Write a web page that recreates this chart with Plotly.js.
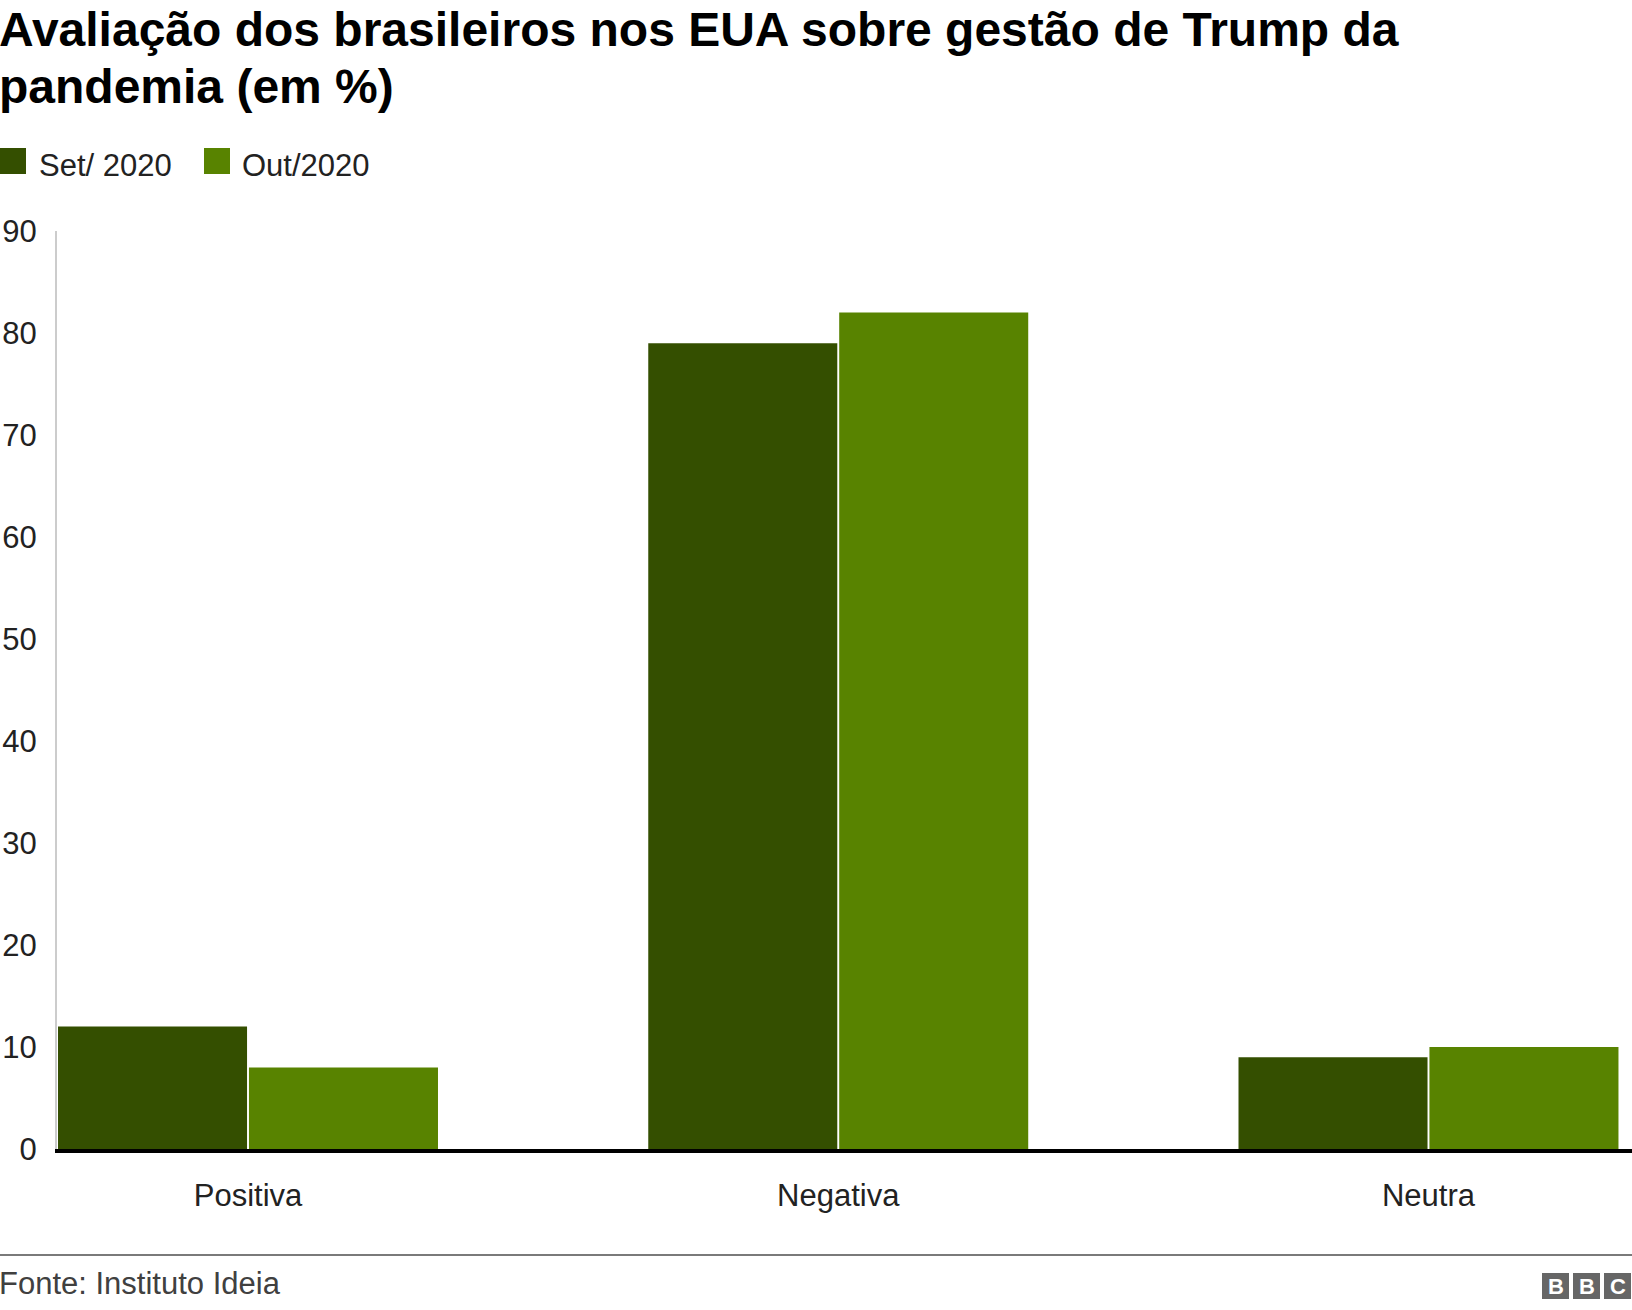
<!DOCTYPE html>
<html>
<head>
<meta charset="utf-8">
<script src="https://cdn.plot.ly/plotly-3.0.1.min.js"></script>
<style>html,body{margin:0;padding:0;background:#fff;}#chart{width:1632px;height:1310px;}</style>
</head>
<body>
<div id="chart"></div>
<script>
const categories = ["Positiva", "Negativa", "Neutra"];
const seriesNames = ["Set/ 2020", "Out/2020"];
const setValues = [12, 79, 9];
const outValues = [8, 82, 10];
const yTicks = [0, 10, 20, 30, 40, 50, 60, 70, 80, 90];
const titleLines = ["Avaliação dos brasileiros nos EUA sobre gestão de Trump da", "pandemia (em %)"];
const sourceText = "Fonte: Instituto Ideia";

const W = 1632, H = 1310;
const L = 57, R = 0, T = 231, B = 161;
const PW = W - L - R, PH = H - T - B;
const px = x => (x - L) / PW;
const py = y => (H - B - y) / PH;

const colors = ["#344f00", "#588300"];
const FONT = "Liberation Sans, Arial, Helvetica, sans-serif";

const traces = [
  {type: "bar", name: seriesNames[0], x: categories, y: setValues, marker: {color: colors[0]}, hoverinfo: "x+y+name"},
  {type: "bar", name: seriesNames[1], x: categories, y: outValues, marker: {color: colors[1]}, hoverinfo: "x+y+name"}
];

const shapes = [
  {type: "rect", xref: "paper", yref: "paper", x0: px(0), x1: px(26), y0: py(174), y1: py(148), fillcolor: colors[0], line: {width: 0}},
  {type: "rect", xref: "paper", yref: "paper", x0: px(204), x1: px(230), y0: py(174), y1: py(148), fillcolor: colors[1], line: {width: 0}},
  {type: "line", xref: "paper", yref: "paper", x0: px(0), x1: px(1632), y0: py(1255), y1: py(1255), line: {color: "#7a7a7a", width: 2}},
  {type: "rect", xref: "paper", yref: "paper", x0: px(1542), x1: px(1569), y0: py(1299), y1: py(1273), fillcolor: "#666666", line: {width: 0}},
  {type: "rect", xref: "paper", yref: "paper", x0: px(1573), x1: px(1600), y0: py(1299), y1: py(1273), fillcolor: "#666666", line: {width: 0}},
  {type: "rect", xref: "paper", yref: "paper", x0: px(1604), x1: px(1631), y0: py(1299), y1: py(1273), fillcolor: "#666666", line: {width: 0}}
];

const annotations = [
  {xref: "paper", yref: "paper", x: px(-3), y: py(29), xanchor: "left", yanchor: "middle", text: "<b>" + titleLines[0] + "</b>", showarrow: false, font: {family: FONT, size: 48, color: "#000"}},
  {xref: "paper", yref: "paper", x: px(-3), y: py(87), xanchor: "left", yanchor: "middle", text: "<b>" + titleLines[1] + "</b>", showarrow: false, font: {family: FONT, size: 48, color: "#000"}},
  {xref: "paper", yref: "paper", x: px(37), y: py(165), xanchor: "left", yanchor: "middle", text: seriesNames[0], showarrow: false, font: {family: FONT, size: 31, color: "#222"}},
  {xref: "paper", yref: "paper", x: px(240), y: py(165), xanchor: "left", yanchor: "middle", text: seriesNames[1], showarrow: false, font: {family: FONT, size: 31, color: "#222"}},
  {xref: "paper", yref: "paper", x: px(-3), y: py(1283), xanchor: "left", yanchor: "middle", text: sourceText, showarrow: false, font: {family: FONT, size: 31, color: "#404040"}},
  {xref: "paper", yref: "paper", x: px(1555.5), y: py(1286), xanchor: "center", yanchor: "middle", text: "<b>B</b>", showarrow: false, font: {family: FONT, size: 22, color: "#ffffff"}},
  {xref: "paper", yref: "paper", x: px(1586.5), y: py(1286), xanchor: "center", yanchor: "middle", text: "<b>B</b>", showarrow: false, font: {family: FONT, size: 22, color: "#ffffff"}},
  {xref: "paper", yref: "paper", x: px(1617.5), y: py(1286), xanchor: "center", yanchor: "middle", text: "<b>C</b>", showarrow: false, font: {family: FONT, size: 22, color: "#ffffff"}}
];

const layout = {
  width: W, height: H,
  margin: {l: L, r: R, t: T, b: B, pad: 0},
  paper_bgcolor: "#ffffff", plot_bgcolor: "#ffffff",
  showlegend: false,
  barmode: "group",
  bargap: 0.353,
  bargroupgap: 0.01,
  xaxis: {type: "category", range: [-0.3236, 2.3448], showgrid: false, zeroline: false,
          showline: true, linecolor: "#000", linewidth: 4, ticks: "", ticklabelstandoff: 16,
          tickfont: {family: FONT, size: 31, color: "#222"}, fixedrange: true},
  yaxis: {range: [0, 90], tickvals: yTicks, ticktext: yTicks.map(String), showgrid: false, zeroline: false,
          showline: true, linecolor: "#cccccc", linewidth: 2, ticks: "", ticklabelstandoff: 12,
          tickfont: {family: FONT, size: 31, color: "#222"}, fixedrange: true},
  shapes: shapes,
  annotations: annotations
};

Plotly.newPlot("chart", traces, layout, {displayModeBar: false, staticPlot: true});
</script>
</body>
</html>
